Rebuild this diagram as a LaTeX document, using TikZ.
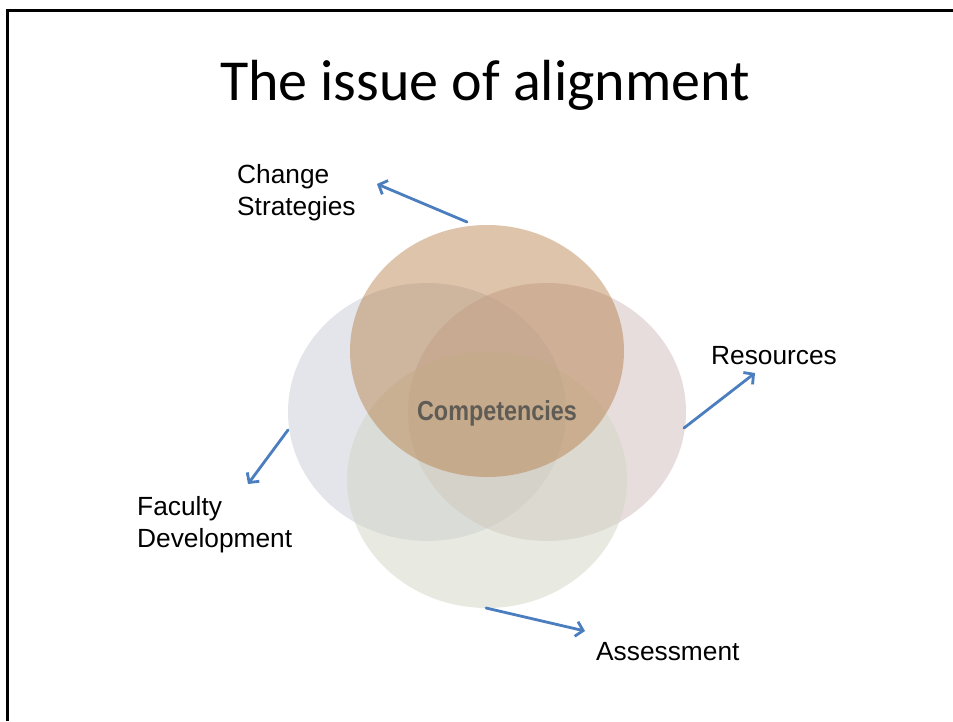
\documentclass[tikz,border=0pt]{standalone}
\usepackage{fontspec}
\setmainfont{Liberation Sans}
\newfontfamily\titlefont{Carlito}
\usetikzlibrary{arrows.meta}
\definecolor{arrowblue}{RGB}{74,126,190}
\definecolor{cleft}{RGB}{200,203,214}
\definecolor{cright}{RGB}{205,188,186}
\definecolor{cbottom}{RGB}{210,213,196}
\definecolor{ctop}{RGB}{180,120,62}
\definecolor{comptext}{RGB}{95,91,85}
\begin{document}
\begin{tikzpicture}[x=1pt,y=-1pt,
  lbl/.style={align=left, inner sep=0pt, font=\fontsize{26.3}{32.5}\selectfont},
  conn/.style={draw=arrowblue, line width=2.8pt, line cap=round,
    -{Straight Barb[length=7pt,width=15pt,line width=2.8pt]}},
  blob/.style={fill opacity=0.5}]
\useasboundingbox (0,0) rectangle (953,721);
% slide frame
\draw[line width=3pt] (7,721) -- (7,10.5) -- (953,10.5);
% title
\node[anchor=base, inner sep=0pt, font=\titlefont\fontsize{58}{60}\selectfont] (title) at (485,100) {The issue of alignment};
% circles
\fill[blob, cleft]   (427,412) ellipse [x radius=139, y radius=129];
\fill[blob, cright]  (547,412) ellipse [x radius=139, y radius=129];
\fill[blob, cbottom] (487,480) ellipse [x radius=140, y radius=128];
\fill[fill opacity=0.44, ctop] (487,351) ellipse [x radius=137, y radius=126];
\node[inner sep=0pt, text=comptext, font=\bfseries\fontsize{27.5}{28}\selectfont, xscale=0.85] (comp) at (497,413) {Competencies};
% labels
\node[lbl, anchor=base west] (cs) at (237,183) {Change};
\node[lbl, anchor=base west] (cs2) at (237,215) {Strategies};
\node[lbl, anchor=base west] (res) at (711,364) {Resources};
\node[lbl, anchor=base west] (fd) at (137,515) {Faculty};
\node[lbl, anchor=base west] (fd2) at (137,547) {Development};
\node[lbl, anchor=base west] (as) at (596,660) {Assessment};
% arrow ends
\coordinate (a1s) at (467,222); \coordinate (a1e) at (377,184);
\coordinate (a2s) at (684,428); \coordinate (a2e) at (755,373);
\coordinate (a3s) at (288,430); \coordinate (a3e) at (248,484);
\coordinate (a4s) at (486,608); \coordinate (a4e) at (585,631);
\draw[conn] (a1s) -- (a1e);
\draw[conn] (a2s) -- (a2e);
\draw[conn] (a3s) -- (a3e);
\draw[conn] (a4s) -- (a4e);
\end{tikzpicture}
\end{document}
